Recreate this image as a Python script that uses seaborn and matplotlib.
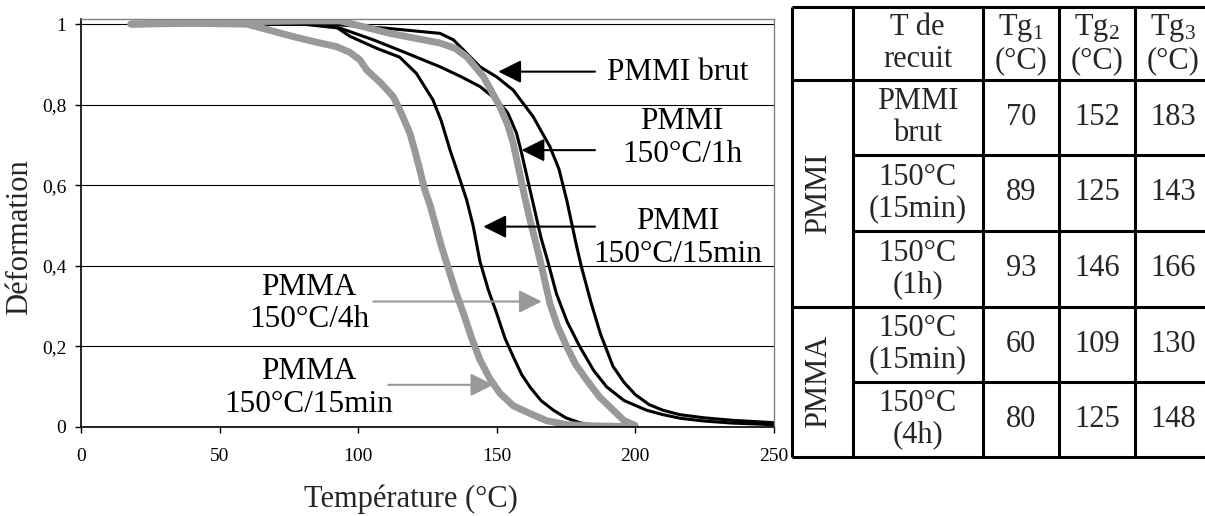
import matplotlib
matplotlib.use('Agg')
import matplotlib.pyplot as plt
import seaborn as sns
import pandas as pd
from matplotlib.ticker import FuncFormatter

# --- curves: temperature (°C) vs deformation ---
brut_T = [18, 50, 80, 93.5, 110, 129.6, 134.4, 138, 144, 150, 156, 163.2, 169.2, 172.5,
          175.3, 178.5, 180.5, 184, 187.5, 192, 196, 200, 205, 210, 216, 225, 235, 250]
brut_D = [1.0, 1.0, 1.0, 0.998, 0.99, 0.977, 0.961, 0.936, 0.894, 0.869, 0.836, 0.770, 0.696, 0.64,
          0.563, 0.46, 0.40, 0.31, 0.23, 0.15, 0.11, 0.08, 0.055, 0.041, 0.03, 0.022, 0.016, 0.01]

h1_T = [18, 50, 80, 93.5, 105.5, 117.5, 129.6, 137, 144, 150, 154, 157.2, 159, 161, 163,
        166, 168.5, 171.6, 175.5, 180, 185, 189.7, 196, 204.1, 210, 216.2, 225, 235, 250]
h1_D = [1.0, 1.0, 1.0, 0.99, 0.961, 0.928, 0.894, 0.87, 0.845, 0.812, 0.78, 0.729, 0.68, 0.62, 0.56,
        0.47, 0.41, 0.33, 0.26, 0.199, 0.14, 0.099, 0.065, 0.041, 0.03, 0.021, 0.014, 0.009, 0.005]

m15_T = [18, 50, 80, 91, 97, 106.7, 115, 121, 127, 130, 133.2, 136, 139.2, 141.5, 144, 147,
         150, 153, 156, 159, 162, 166, 170.5, 175, 180, 185]
m15_D = [1.0, 1.0, 1.0, 0.998, 0.97, 0.94, 0.918, 0.878, 0.812, 0.76, 0.687, 0.63, 0.563, 0.50, 0.41, 0.34,
         0.282, 0.22, 0.174, 0.13, 0.099, 0.065, 0.041, 0.022, 0.01, 0.003]

pmma15_T = [18, 40, 59.8, 68, 76.6, 85, 92.3, 97, 100.7, 103.1, 108, 112.7, 115.5, 118.7, 120.5,
            122.3, 124, 126, 128, 130, 132, 135, 138, 141, 144, 147.5, 151.2, 156, 162, 168,
            175.3, 185, 200]
pmma15_D = [1.0, 1.002, 1.0, 0.985, 0.969, 0.955, 0.944, 0.93, 0.911, 0.886, 0.855, 0.82, 0.78, 0.729, 0.685,
            0.638, 0.59, 0.55, 0.5, 0.45, 0.406, 0.34, 0.282, 0.22, 0.166, 0.12, 0.083, 0.052, 0.033, 0.015,
            0.005, 0.002, 0.0]

pmma4h_T = [18, 50, 80, 93.5, 111.5, 129.6, 135, 139.2, 145.2, 148, 151.2, 154, 156, 158, 160,
            162, 164.4, 166.5, 169.2, 172, 175.3, 178.5, 182.5, 187, 192.1, 196, 200]
pmma4h_D = [1.0, 1.005, 1.008, 1.008, 0.977, 0.953, 0.94, 0.919, 0.870, 0.835, 0.795, 0.75, 0.704, 0.64, 0.575,
            0.515, 0.45, 0.39, 0.307, 0.25, 0.199, 0.155, 0.116, 0.075, 0.041, 0.015, 0.003]

# --- table values ---
table_header = ["T de\nrecuit", "Tg$_\\mathrm{1}$\n(°C)", "Tg$_\\mathrm{2}$\n(°C)", "Tg$_\\mathrm{3}$\n(°C)"]
recuit = ["PMMI\nbrut", "150°C\n(15min)", "150°C\n(1h)", "150°C\n(15min)", "150°C\n(4h)"]
tg1 = [70, 89, 93, 60, 80]
tg2 = [152, 125, 146, 109, 125]
tg3 = [183, 143, 166, 130, 148]
groups = ["PMMI", "PMMA"]

BLACK = 'black'
GREY = '#999999'

sns.set_theme(style='white')
plt.rcParams['font.family'] = ['Liberation Serif', 'DejaVu Serif']
plt.rcParams['mathtext.fontset'] = 'custom'
plt.rcParams['mathtext.rm'] = 'Liberation Serif'
plt.rcParams['mathtext.it'] = 'Liberation Serif:italic'

W, H = 1205, 516
fig = plt.figure(figsize=(W / 100, H / 100), dpi=100)
fig.patch.set_facecolor('white')
ax = fig.add_axes([81 / W, 1 - 426.7 / H, 692.7 / W, 407.4 / H])

# black curves below, thick grey curves above
for T, D in [(brut_T, brut_D), (h1_T, h1_D), (m15_T, m15_D)]:
    sns.lineplot(x=T, y=D, ax=ax, color=BLACK, lw=2.2, sort=False, estimator=None)
for T, D in [(pmma15_T, pmma15_D), (pmma4h_T, pmma4h_D)]:
    sns.lineplot(x=T, y=D, ax=ax, color=GREY, lw=5, sort=False, estimator=None,
                 solid_capstyle='round')

ax.set_xlim(0, 250)
ax.set_ylim(0, 1.012)
ax.set_xticks([0, 50, 100, 150, 200, 250])
ax.set_yticks([0, 0.2, 0.4, 0.6, 0.8, 1.0])
ax.yaxis.set_major_formatter(FuncFormatter(lambda v, p: ('%g' % round(v, 2)).replace('.', ',')))
ax.yaxis.grid(True, color='black', lw=0.8)
ax.xaxis.grid(False)
ax.set_axisbelow(True)
for s in ['top', 'right']:
    ax.spines[s].set_color('#808080')
    ax.spines[s].set_linewidth(1)
for s in ['left', 'bottom']:
    ax.spines[s].set_color('black')
    ax.spines[s].set_linewidth(1.2)
ax.tick_params(axis='both', direction='out', length=4.5, width=1, color='black',
               labelsize=14, labelcolor='black')
ax.tick_params(axis='x', pad=11, bottom=True)
ax.tick_params(axis='y', pad=6, left=True)

ax.set_xlabel('Température (°C)', fontsize=22, va='top')
ax.xaxis.set_label_coords(0.476, -0.143)
ax.set_ylabel('Déformation', fontsize=22)
ax.yaxis.set_label_coords(-0.068, 0.466)

# --- labels with arrows ---
def label(txt, xy_text, tip, tail, color):
    ax.text(xy_text[0], xy_text[1], txt, fontsize=22.5, ha='center', va='center',
            color='black', linespacing=1.15)
    ax.annotate('', xy=tip, xytext=tail,
                arrowprops=dict(arrowstyle='-|>,head_length=1.0,head_width=0.5',
                                mutation_scale=14, color=color, lw=1.5,
                                shrinkA=0, shrinkB=0))

label('PMMI brut', (215.4, 0.881), (150.6, 0.882), (185.5, 0.882), BLACK)
label('PMMI\n150°C/1h', (216.9, 0.717), (159, 0.687), (185.5, 0.687), BLACK)
label('PMMI\n150°C/15min', (215.4, 0.469), (145.2, 0.497), (185.5, 0.497), BLACK)
label('PMMA\n150°C/4h', (82.3, 0.306), (166.3, 0.311), (105.5, 0.311), GREY)
label('PMMA\n150°C/15min', (82.3, 0.096), (148.8, 0.104), (110.9, 0.104), GREY)

# --- table on the right ---
tx0, tx1 = 792, 1211
ty0, ty1 = 7, 457
axt = fig.add_axes([tx0 / W, 1 - ty1 / H, (tx1 - tx0) / W, (ty1 - ty0) / H])
axt.set_xlim(tx0, tx1)
axt.set_ylim(ty1, ty0)
axt.axis('off')

cols = [792, 852.7, 982.7, 1059, 1135, 1211]
rows = [7, 80, 155, 231, 306.7, 381.7, 457]
lw_t = 2.2
for x in cols:
    axt.vlines(x, ty0, ty1, color='black', lw=lw_t, clip_on=False)
for i, y in enumerate(rows):
    x_start = cols[0] if i in (0, 1, 4, 6) else cols[1]
    axt.hlines(y, x_start, tx1, color='black', lw=lw_t, clip_on=False)

cx = [(cols[i] + cols[i + 1]) / 2 for i in range(len(cols) - 1)]
cy = [(rows[i] + rows[i + 1]) / 2 for i in range(len(rows) - 1)]
for j, h in enumerate(table_header):
    axt.text(cx[j + 1], cy[0], h, fontsize=22, ha='center', va='center', linespacing=1.1)
for i in range(len(recuit)):
    axt.text(cx[1], cy[i + 1], recuit[i], fontsize=22, ha='center', va='center', linespacing=1.1)
    for j, vals in enumerate([tg1, tg2, tg3]):
        axt.text(cx[j + 2], cy[i + 1], str(vals[i]), fontsize=22, ha='center', va='center')
axt.text(cx[0] - 4, (rows[1] + rows[4]) / 2, groups[0], fontsize=22, rotation=90,
         ha='center', va='center')
axt.text(cx[0] - 4, (rows[4] + rows[6]) / 2, groups[1], fontsize=22, rotation=90,
         ha='center', va='center')

plt.savefig('out.png', dpi=100)
